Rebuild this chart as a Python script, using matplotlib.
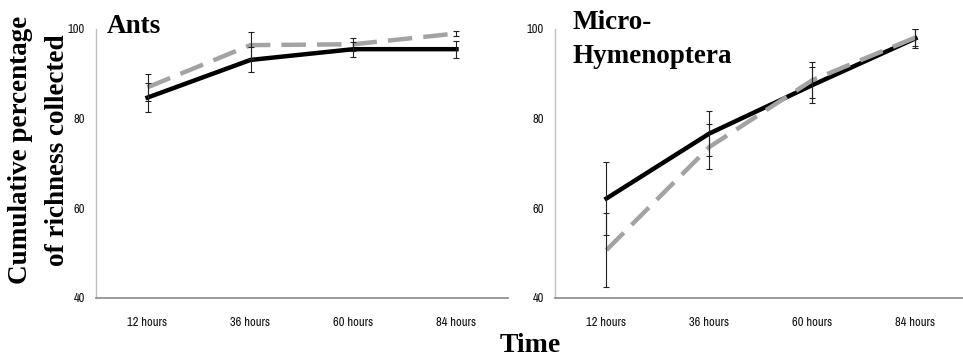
import numpy as np
import matplotlib.pyplot as plt
from matplotlib import font_manager

# Data
times = ['12 hours', '36 hours', '60 hours', '84 hours']

ants_black = [84.7, 93.1, 95.5, 95.5]
ants_black_err = [3.2, 2.8, 1.7, 1.9]
ants_gray = [87.0, 96.4, 96.6, 99.0]
ants_gray_err = [3.0, 3.0, 1.5, 0.6]

micro_black = [62.2, 76.7, 87.5, 97.9]
micro_black_err = [8.2, 5.0, 4.1, 2.2]
micro_gray = [50.7, 73.7, 88.6, 98.1]
micro_gray_err = [8.2, 5.0, 4.0, 2.0]

yticks = [40, 60, 80, 100]

# condensed face for the tick labels, if there is one
tickprop = font_manager.FontProperties(family='DejaVu Sans', stretch='condensed', size=8)
narrow = [f.name for f in font_manager.fontManager.ttflist
          if 'Narrow' in f.name or 'Condensed' in f.name]
if narrow:
    tickprop = font_manager.FontProperties(family=narrow[0], size=9)
serif = 'Liberation Serif'

fig = plt.figure(figsize=(9.63, 3.58), dpi=100)
ax1 = fig.add_axes([0.0997, 0.1676, 0.4278, 0.7514])
ax2 = fig.add_axes([0.5763, 0.1676, 0.4278, 0.7514])


def draw(ax, black, black_err, gray, gray_err):
    x = np.arange(len(times))
    ax.plot(x, black, color='black', lw=3.2, zorder=3)
    ax.plot(x, gray, color='#a3a3a3', lw=3.2, dashes=(5.5, 2.5), zorder=4)
    ax.errorbar(x, black, yerr=black_err, fmt='none', ecolor='#222222',
                elinewidth=0.8, capsize=2.5, capthick=0.8, zorder=5)
    ax.errorbar(x, gray, yerr=gray_err, fmt='none', ecolor='#222222',
                elinewidth=0.8, capsize=2.5, capthick=0.8, zorder=5)
    ax.set_xlim(-0.5, len(times) - 0.5)
    ax.set_ylim(40, 100)
    ax.set_xticks(x)
    ax.set_xticklabels(times, fontproperties=tickprop, color='#111111')
    ax.set_yticks(yticks)
    ax.set_yticklabels([str(v) for v in yticks], fontproperties=tickprop, color='#111111')
    ax.tick_params(length=0, pad=8)
    ax.tick_params(axis='x', pad=14)
    for s in ['top', 'right']:
        ax.spines[s].set_visible(False)
    ax.spines['left'].set_color('#c0c0c0')
    ax.spines['bottom'].set_color('#8a8a8a')
    ax.spines['left'].set_linewidth(1.0)
    ax.spines['bottom'].set_linewidth(1.2)
    ax.patch.set_alpha(0)


draw(ax1, ants_black, ants_black_err, ants_gray, ants_gray_err)
draw(ax2, micro_black, micro_black_err, micro_gray, micro_gray_err)

fig.text(107 / 963, 1 - 33 / 358, 'Ants', fontfamily=serif, fontweight='bold',
         fontsize=19.5, ha='left', va='baseline')
fig.text(572 / 963, 1 - 29 / 358, 'Micro-', fontfamily=serif, fontweight='bold',
         fontsize=19.5, ha='left', va='baseline')
fig.text(572 / 963, 1 - 63 / 358, 'Hymenoptera', fontfamily=serif, fontweight='bold',
         fontsize=19.5, ha='left', va='baseline')

fig.text(21 / 963, 1 - 150 / 358, 'Cumulative percentage', fontfamily=serif,
         fontweight='bold', fontsize=19.5, rotation=90, ha='center', va='center')
fig.text(58 / 963, 1 - 150 / 358, 'of richness collected', fontfamily=serif,
         fontweight='bold', fontsize=19.5, rotation=90, ha='center', va='center')

fig.text(530 / 963, 1 - 345 / 358, 'Time', fontfamily=serif, fontweight='bold',
         fontsize=20, ha='center', va='center')

fig.savefig('out.png', dpi=100)
